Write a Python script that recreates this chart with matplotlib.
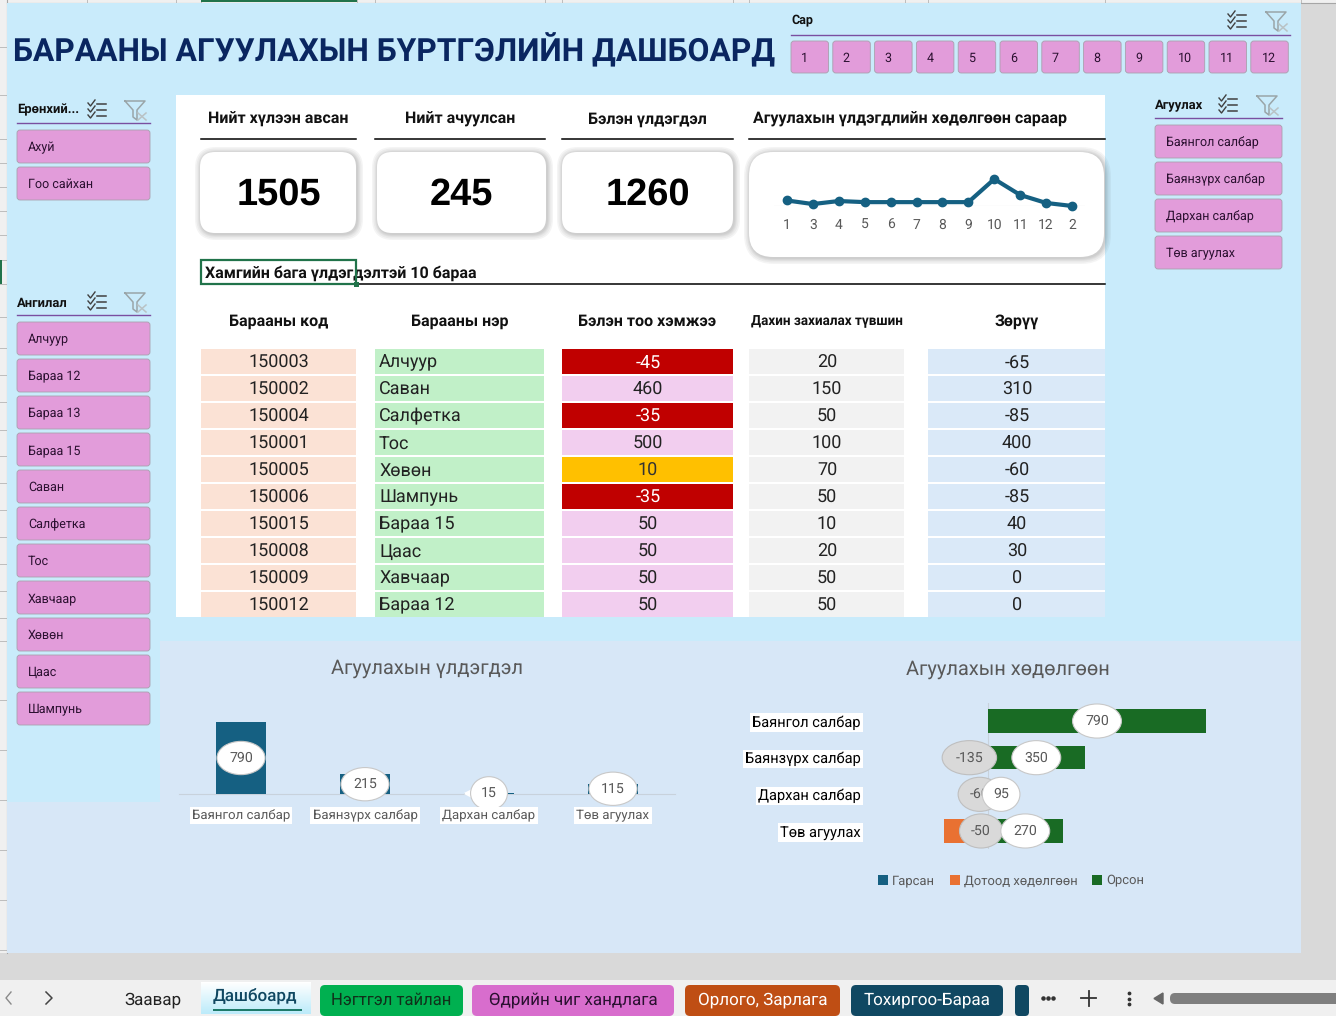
# -*- coding: utf-8 -*-
import matplotlib
matplotlib.use("Agg")
import matplotlib.pyplot as plt
from matplotlib.patches import FancyBboxPatch, Rectangle
from matplotlib.lines import Line2D
import numpy as np

plt.rcParams['font.family'] = ['Roboto', 'DejaVu Sans']
plt.rcParams['text.hinting'] = 'no_hinting'

W, H = 1336, 1016

# KPI
kpi_titles = ["Нийт хүлээн авсан", "Нийт ачуулсан", "Бэлэн үлдэгдэл"]
kpi_values = [1505, 245, 1260]

# slicers
slicer_general = ["Ахуй", "Гоо сайхан"]
slicer_category = ["Алчуур", "Бараа 12", "Бараа 13", "Бараа 15", "Саван", "Салфетка",
                   "Тос", "Хавчаар", "Хөвөн", "Цаас", "Шампунь"]
slicer_store = ["Баянгол салбар", "Баянзүрх салбар", "Дархан салбар", "Төв агуулах"]
slicer_month = ["1", "2", "3", "4", "5", "6", "7", "8", "9", "10", "11", "12"]

# monthly movement line
line_months = ["1", "3", "4", "5", "6", "7", "8", "9", "10", "11", "12", "2"]
line_values = [95, 30, 85, 65, 65, 65, 65, 65, 485, 195, 50, -5]

# lowest stock table
table_headers = ["Барааны код", "Барааны нэр", "Бэлэн тоо хэмжээ", "Дахин захиалах түвшин", "Зөрүү"]
item_codes = [150003, 150002, 150004, 150001, 150005, 150006, 150015, 150008, 150009, 150012]
item_names = ["Алчуур", "Саван", "Салфетка", "Тос", "Хөвөн", "Шампунь", "Бараа 15", "Цаас", "Хавчаар", "Бараа 12"]
item_qty = [-45, 460, -35, 500, 10, -35, 50, 50, 50, 50]
item_reorder = [20, 150, 50, 100, 70, 50, 10, 20, 50, 50]
item_diff = [-65, 310, -85, 400, -60, -85, 40, 30, 0, 0]

# store charts
stores = ["Баянгол салбар", "Баянзүрх салбар", "Дархан салбар", "Төв агуулах"]
stock_left = [790, 215, 15, 115]
moved_out = [0, -135, -60, -50]
moved_internal = [0, 0, 0, -110]
moved_in = [790, 350, 95, 270]

# sheet tabs
tab_names = ["Нэгтгэл тайлан", "Өдрийн чиг хандлага", "Орлого, Зарлага", "Тохиргоо-Бараа"]

SKY = "#C9EBFB"
PALE = "#D7E7F7"
PINK = "#E29CDA"
NAVY = "#0A2660"
BLUE = "#156082"
ORANGE = "#E97132"
GREEN = "#196B24"
GREY_TXT = "#595959"

fig = plt.figure(figsize=(W / 100, H / 100), dpi=100)
bg = fig.add_axes([0, 0, 1, 1])
bg.set_axis_off()


def px_axes(left, top, right, bottom):
    # axes placed by pixel box of the screenshot
    ax = fig.add_axes([left / W, 1 - bottom / H, (right - left) / W, (bottom - top) / H])
    ax.patch.set_alpha(0)
    for s in ax.spines.values():
        s.set_visible(False)
    return ax


def rect(x0, y0, x1, y1, color, z=1, **kw):
    bg.add_patch(Rectangle((x0, y0), x1 - x0, y1 - y0, facecolor=color, edgecolor="none", zorder=z, **kw))


def txt(x, y, s, px, color="black", ha="center", weight="normal", z=5, **kw):
    bg.text(x, y + 1, s, fontsize=px * 0.72, color=color, ha=ha, va="center", fontweight=weight, zorder=z, **kw)


def rounded(x0, y0, x1, y1, r, face, edge="none", lw=1, z=3, alpha=None):
    bg.add_patch(FancyBboxPatch((x0 + r, y0 + r), x1 - x0 - 2 * r, y1 - y0 - 2 * r,
                                boxstyle="round,pad=%f,rounding_size=%f" % (r, r),
                                facecolor=face, edgecolor=edge, linewidth=lw, zorder=z, alpha=alpha))


def card(x0, y0, x1, y1, r):
    # soft shadow then white card
    for d in [6, 4.5, 3, 2, 1]:
        rounded(x0 - d + 1, y0 - d + 1, x1 + d + 1, y1 + d + 1, r + d, "#404040", z=2.5, alpha=0.055)
    rounded(x0, y0, x1, y1, r, "white", z=3)


def icons(x_multi, x_clear, y):
    # multi-select icon
    for dy in [-6, 0, 6]:
        bg.add_line(Line2D([x_multi - 9, x_multi - 6.5, x_multi - 2], [y + dy - 1, y + dy + 2, y + dy - 4],
                           color="#404040", lw=1, zorder=5))
        bg.add_line(Line2D([x_multi, x_multi + 9], [y + dy, y + dy], color="#404040", lw=1.1, zorder=5))
    # clear filter icon
    bg.add_line(Line2D([x_clear - 10, x_clear + 10, x_clear + 2, x_clear + 2, x_clear - 2, x_clear - 2, x_clear - 10],
                       [y - 9, y - 9, y, y + 10, y + 7, y, y - 9], color="#9AA5A8", lw=1.1, zorder=5))
    bg.add_line(Line2D([x_clear + 3, x_clear + 11], [y + 3, y + 10], color="#B9C2C5", lw=1.1, zorder=5))
    bg.add_line(Line2D([x_clear + 3, x_clear + 11], [y + 10, y + 3], color="#B9C2C5", lw=1.1, zorder=5))


def button(x0, y0, x1, y1, label, offs=11):
    rounded(x0, y0, x1, y1, 3, PINK, edge="#A99FAD", lw=0.6)
    txt(x0 + offs, (y0 + y1) / 2, label, 12.5, color="#2B1030", ha="left")


def slicer(x0, x1, y_head, title, items, y_line):
    txt(x0, y_head - 1, title, 13, ha="left", weight="bold", color="#111111")
    bg.add_line(Line2D([x0, x1], [y_line, y_line], color="#7A4FA0", lw=1, zorder=4))
    for i, it in enumerate(items):
        y0 = y_line + 7 + 37 * i
        button(x0, y0, x1, y0 + 33, it)


# backgrounds
rect(0, 0, W, H, "#D9D9D9", z=0)
rect(0, 0, W, 3, "#F0F0F0", z=0.5)
rect(0, 0, 7, 953, "#F0F0F0", z=0.5)
for yy in [47, 95, 139, 163, 187, 211, 235, 260, 284, 317, 348, 375, 402, 430, 456, 483, 510, 537, 564, 591, 618, 641,
           700, 750, 800, 850, 900, 950]:
    bg.add_line(Line2D([0, 7], [yy, yy], color="#BDBDBD", lw=0.7, zorder=0.6))
for xx in [87, 176, 201, 357, 375, 545, 562, 733, 749, 905, 928, 1105, 1301]:
    bg.add_line(Line2D([xx, xx], [0, 3], color="#BDBDBD", lw=0.7, zorder=0.6))
bg.add_line(Line2D([6.5, 6.5], [0, 953], color="#A6A6A6", lw=0.8, zorder=0.6))
bg.add_line(Line2D([7, W], [2.5, 2.5], color="#A6A6A6", lw=0.8, zorder=0.6))
rect(201, 0, 357, 2, "#21734A", z=0.7)
rect(0, 260, 2, 284, "#21734A", z=0.7)
rect(7, 3, 1301, 641, SKY, z=1)
rect(7, 641, 160, 802, SKY, z=1)
rect(160, 641, 1301, 953, PALE, z=1.1)
rect(7, 802, 160, 953, PALE, z=1.1)
rect(176, 95, 1105, 617, "white", z=1.2)

# title
txt(13, 50, "БАРААНЫ АГУУЛАХЫН БҮРТГЭЛИЙН ДАШБОАРД", 31.8, color=NAVY, ha="left", weight="bold")

# slicers
slicer(17, 150, 110, "Ерөнхий...", slicer_general, 123)
icons(97, 135, 110)
slicer(17, 150, 303, "Ангилал", slicer_category, 315)
icons(97, 135, 302)
slicer(1155, 1282, 106, "Агуулах", slicer_store, 118)
icons(1228, 1267, 105)
txt(791, 20, "Сар", 12.5, ha="left", weight="bold", color="#111111")
bg.add_line(Line2D([791, 1290], [35, 35], color="#7A4FA0", lw=1, zorder=4))
icons(1237, 1276, 21)
for i, m in enumerate(slicer_month):
    x0 = 791 + 41.8 * i
    button(x0, 41, x0 + 37.5, 73, m, offs=11 if len(m) == 2 else 10)

# KPI cards
kpi_boxes = [(200, 356, 279), (377, 546, 461), (562, 733, 648)]
kpi_heads = [(201, 356), (375, 545), (562, 733)]
for (x0, x1, xc), (hx0, hx1), t, v in zip(kpi_boxes, kpi_heads, kpi_titles, kpi_values):
    txt((hx0 + hx1) / 2, 118, t, 16, weight="bold", color="#111111")
    bg.add_line(Line2D([hx0, hx1], [139, 139], color="black", lw=1.1, zorder=4))
    card(x0, 152, x1, 233, 15)
    bg.text(xc, 195, str(v), fontsize=27.4, fontweight="bold", family=["Liberation Sans", "DejaVu Sans"],
            ha="center", va="center", zorder=5)
txt(753, 118, "Агуулахын үлдэгдлийн хөдөлгөөн сараар", 16, ha="left", weight="bold", color="#111111")
bg.add_line(Line2D([749, 1105], [139, 139], color="black", lw=1.1, zorder=4))
card(749, 152, 1104, 257, 24)

# line chart inside the card
ax_line = px_axes(774, 170, 1085, 205.7)
x_line = np.arange(len(line_months))
ax_line.plot(x_line, line_values, color=BLUE, lw=3, marker="o", ms=6, clip_on=False)
ax_line.axhline(0, color="#D0D0D0", lw=0.8, zorder=0)
ax_line.set_xlim(-0.5, 11.5)
ax_line.set_ylim(0, 35.7 * 18.2)
ax_line.set_yticks([])
ax_line.set_xticks(x_line, line_months)
ax_line.tick_params(axis="x", length=0, pad=9, labelsize=10, labelcolor=GREY_TXT)

# selected cell and section line
txt(205, 272, "Хамгийн бага үлдэгдэлтэй 10 бараа", 16, ha="left", weight="bold", color="#111111")
bg.add_line(Line2D([357, 1105], [283.5, 283.5], color="black", lw=1.1, zorder=4))
bg.add_patch(Rectangle((201, 260), 155, 24, facecolor="none", edgecolor="#21734A", lw=1.6, zorder=6))
rect(354, 281.5, 359, 286.5, "#21734A", z=7)

# table
col_x = [(201, 356), (375, 544), (562, 733), (749, 904), (928, 1105)]
col_size = [16, 16, 16, 13.5, 16]
for (x0, x1), h, sz in zip(col_x, table_headers, col_size):
    txt((x0 + x1) / 2, 320.5, h, sz, weight="bold", color="#111111")
for i in range(len(item_codes)):
    y0 = 349 + 27 * i
    y1 = y0 + 25
    yc = y0 + 12.5
    q = item_qty[i]
    if q < 0:
        q_col, q_txt = "#C00000", "white"
    elif q <= 10:
        q_col, q_txt = "#FFC000", "#333333"
    else:
        q_col, q_txt = "#F2CEEF", "#222222"
    fills = ["#FBE2D5", "#C1F0C8", q_col, "#F2F2F2", "#DAE9F8"]
    for (x0, x1), f in zip(col_x, fills):
        rect(x0, y0, x1, y1, f, z=2)
    txt(279, yc, str(item_codes[i]), 18, color="#222222")
    txt(379, yc, item_names[i], 18, color="#222222", ha="left")
    txt(648, yc, str(q), 18, color=q_txt)
    txt(827, yc, str(item_reorder[i]), 18, color="#222222")
    txt(1017, yc, str(item_diff[i]), 18, color="#222222")

# store stock column chart
txt(427, 667.5, "Агуулахын үлдэгдэл", 20, color=GREY_TXT)
ax_bar = px_axes(179, 700, 675, 794)
x_bar = np.arange(len(stores))
ax_bar.bar(x_bar, stock_left, width=0.4, color=BLUE)
ax_bar.set_xlim(-0.5, 3.5)
ax_bar.set_ylim(0, 94 * 790 / 72)
ax_bar.set_yticks([])
ax_bar.set_xticks(x_bar, stores)
ax_bar.spines["bottom"].set_visible(True)
ax_bar.spines["bottom"].set_color("#C8D2DC")
ax_bar.spines["bottom"].set_zorder(0.5)
ax_bar.tick_params(axis="x", length=0, pad=11, labelsize=9.5, labelcolor=GREY_TXT)
ax_bar.set_axisbelow(False)
for lab in ax_bar.get_xticklabels():
    lab.set_bbox(dict(facecolor="white", edgecolor="none", pad=1.5))
ax_bar.plot([x_bar[2] - 0.165], [stock_left[2] / 2], marker="<", ms=7, color="white", zorder=1.9, clip_on=False)
for xb, v in zip(x_bar, stock_left):
    ax_bar.text(xb, v / 2, str(v), fontsize=10.2, color=GREY_TXT, ha="center", va="center", zorder=2, clip_on=False,
                bbox=dict(boxstyle="ellipse,pad=0.36", facecolor="white", edgecolor="#C8C8C8", lw=0.8))

# store movement bar chart
txt(1008, 668.5, "Агуулахын хөдөлгөөн", 20, color=GREY_TXT)
ux = 218 / 790
ax_mv = px_axes(870, 702.7, 1220, 849.3)
y_mv = np.arange(len(stores))
out_arr = np.array(moved_out)
ax_mv.barh(y_mv, moved_out, height=0.63, color=BLUE, label="Гарсан")
ax_mv.barh(y_mv, moved_internal, left=out_arr, height=0.63, color=ORANGE, label="Дотоод хөдөлгөөн")
ax_mv.barh(y_mv, moved_in, height=0.63, color=GREEN, label="Орсон")
ax_mv.axvline(0, color="#C8D2DC", lw=0.8, zorder=0)
ax_mv.set_xlim((870 - 988) / ux, (1220 - 988) / ux)
ax_mv.set_ylim(3.5, -0.5)
ax_mv.set_xticks([])
ax_mv.set_yticks(y_mv, stores)
ax_mv.tick_params(axis="y", length=0, pad=6.5, labelsize=10.5, labelcolor="black")
for lab in ax_mv.get_yticklabels():
    lab.set_bbox(dict(facecolor="white", edgecolor="none", pad=1.5))
for yb, v in zip(y_mv, moved_out):
    if v != 0:
        ax_mv.text(v / 2, yb, str(v), fontsize=10.2, color=GREY_TXT, ha="center", va="center", zorder=4, clip_on=False,
                   bbox=dict(boxstyle="ellipse,pad=0.38", facecolor="#D9D9D9", edgecolor="#BFBFBF", lw=0.8))
for yb, v in zip(y_mv, moved_in):
    ax_mv.text(v / 2, yb, str(v), fontsize=10.2, color=GREY_TXT, ha="center", va="center", zorder=5, clip_on=False,
               bbox=dict(boxstyle="ellipse,pad=0.38", facecolor="white", edgecolor="#C8C8C8", lw=0.8))
ax_mv.legend(ncol=3, loc="center", bbox_to_anchor=(1011 / W, 1 - 881 / H), bbox_transform=fig.transFigure,
             frameon=False, fontsize=9.4, labelcolor=GREY_TXT, handlelength=0.75, handleheight=0.75,
             handletextpad=0.3, columnspacing=1.15)

# sheet tab bar
rect(0, 980, W, H, "#F0F0F0", z=1.5)
bg.add_line(Line2D([11, 6, 11], [992, 998, 1004], color="#8A8A8A", lw=1, zorder=5))
bg.add_line(Line2D([46, 52, 46], [992, 998, 1004], color="#444444", lw=1.1, zorder=5))
txt(153, 999, "Заавар", 17, color="#222222")
grad = np.linspace(0, 1, 32).reshape(-1, 1)
bg.imshow(grad, extent=(201, 311, 1014, 982), cmap=matplotlib.colors.LinearSegmentedColormap.from_list(
    "tab", ["#FFFFFF", "#BCEBFA"]), aspect="auto", zorder=2)
txt(255, 996, "Дашбоард", 17, color="#0F4761", weight="medium")
rect(213, 1009, 302, 1011, "#1E7A6A", z=5)
tab_boxes = [(320, 463, "#00B050", "#10301A"), (472, 674, "#D86DCD", "#2A1030"),
             (685, 840, "#BF4E14", "white"), (851, 1003, "#104862", "white")]
tab_sizes = [16.6, 17, 17, 17]
for (x0, x1, c, tc), name, sz in zip(tab_boxes, tab_names, tab_sizes):
    rounded(x0, 985, x1, 1016, 5, c, z=3)
    txt((x0 + x1) / 2, 999, name, sz, color=tc)
rounded(1015, 985, 1029, 1016, 4, "#104862", z=3)
rect(1029, 980, 1040, 1016, "#F0F0F0", z=3.5)
bg.scatter([1043, 1048, 1053], [998, 998, 998], s=5, color="#333333", zorder=5)
bg.add_line(Line2D([1081, 1096], [998, 998], color="#333333", lw=1.3, zorder=5))
bg.add_line(Line2D([1088.5, 1088.5], [991, 1006], color="#333333", lw=1.3, zorder=5))
bg.scatter([1129, 1129, 1129], [993, 998.5, 1004], s=3, color="#333333", zorder=5)
bg.fill([1154, 1163, 1163], [998.5, 993, 1004], color="#666666", zorder=5)
rounded(1170, 993, 1345, 1004, 5, "#7F7F7F", z=5)

bg.set_xlim(0, W)
bg.set_ylim(H, 0)

fig.savefig("out.png", dpi=100)
